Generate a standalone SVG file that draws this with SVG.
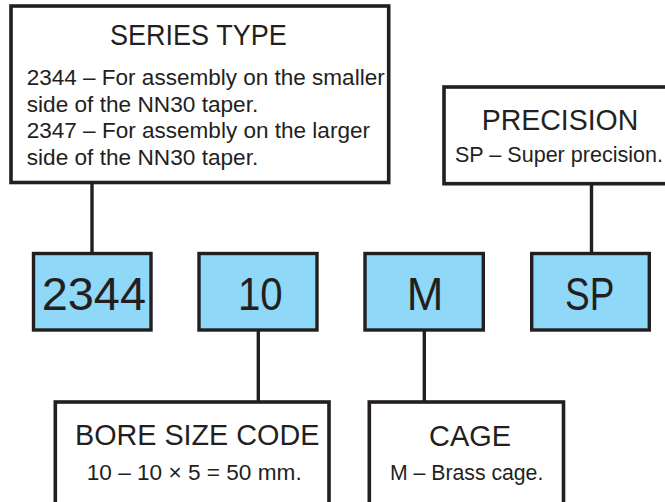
<svg xmlns="http://www.w3.org/2000/svg" width="665" height="502" viewBox="0 0 665 502">
<style>
.box{fill:#ffffff;stroke:#231f20;stroke-width:3.6}
.code{fill:#8fd8f7;stroke:#231f20;stroke-width:3.4}
.ln{stroke:#231f20;stroke-width:3.4;fill:none}
text{font-family:"Liberation Sans",Arial,sans-serif;fill:#231f20}
.t{font-size:30px}
.b{font-size:21.5px}
.c{font-size:46px}
</style>
<rect width="665" height="502" fill="#ffffff"/>
<g id="connectors">
<line class="ln" x1="92" y1="184" x2="92" y2="252"/>
<line class="ln" x1="591.5" y1="185" x2="591.5" y2="252"/>
<line class="ln" x1="258.3" y1="331" x2="258.3" y2="401"/>
<line class="ln" x1="424.3" y1="331" x2="424.3" y2="401"/>
</g>
<g id="series-type">
<rect class="box" x="11" y="6" width="377.7" height="176.5"/>
<text class="t" x="110" y="45" textLength="176.7" lengthAdjust="spacingAndGlyphs">SERIES TYPE</text>
<text class="b" x="26.7" y="85" textLength="358" lengthAdjust="spacingAndGlyphs">2344 – For assembly on the smaller</text>
<text class="b" x="26.7" y="111.7" textLength="231.6" lengthAdjust="spacingAndGlyphs">side of the NN30 taper.</text>
<text class="b" x="26.7" y="138.4" textLength="343.3" lengthAdjust="spacingAndGlyphs">2347 – For assembly on the larger</text>
<text class="b" x="26.7" y="165" textLength="231.6" lengthAdjust="spacingAndGlyphs">side of the NN30 taper.</text>
</g>
<g id="precision">
<rect class="box" x="444" y="87" width="240" height="96.7"/>
<text class="t" x="481.7" y="130" textLength="156.6" lengthAdjust="spacingAndGlyphs">PRECISION</text>
<text class="b" x="455" y="161.7" textLength="208" lengthAdjust="spacingAndGlyphs">SP –  Super precision.</text>
</g>
<g id="code-2344">
<rect class="code" x="33.5" y="253.5" width="117.5" height="76.5"/>
<text class="c" x="41.7" y="310" textLength="104.3" lengthAdjust="spacingAndGlyphs">2344</text>
</g>
<g id="code-10">
<rect class="code" x="199" y="253.5" width="118" height="76.5"/>
<text class="c" x="238" y="310" textLength="44.7" lengthAdjust="spacingAndGlyphs">10</text>
</g>
<g id="code-m">
<rect class="code" x="365" y="253.5" width="118.3" height="76.5"/>
<text class="c" x="406.7" y="310" textLength="36.6" lengthAdjust="spacingAndGlyphs">M</text>
</g>
<g id="code-sp">
<rect class="code" x="531.7" y="253.5" width="117.6" height="76.5"/>
<text class="c" x="565" y="310" textLength="49.3" lengthAdjust="spacingAndGlyphs">SP</text>
</g>
<g id="bore-size-code">
<rect class="box" x="55.3" y="402" width="273.7" height="120"/>
<text class="t" x="75" y="445" textLength="244.3" lengthAdjust="spacingAndGlyphs">BORE SIZE CODE</text>
<text class="b" x="86.7" y="480" textLength="215" lengthAdjust="spacingAndGlyphs">10 – 10 × 5 = 50 mm.</text>
</g>
<g id="cage">
<rect class="box" x="369.3" y="402" width="194.2" height="120"/>
<text class="t" x="429" y="446" textLength="82" lengthAdjust="spacingAndGlyphs">CAGE</text>
<text class="b" x="390" y="480" textLength="153.3" lengthAdjust="spacingAndGlyphs">M – Brass cage.</text>
</g>
</svg>
